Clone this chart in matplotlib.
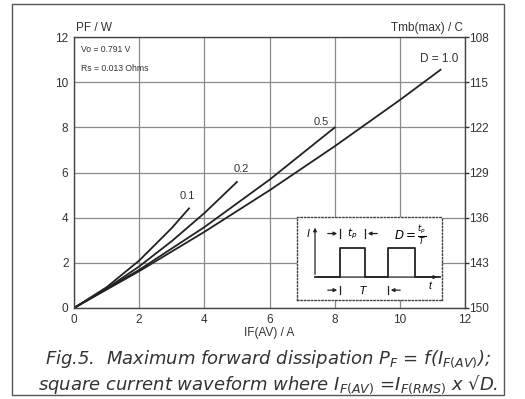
#!/usr/bin/env python3
"""Maximum forward dissipation vs average forward current (Fig.5)."""
import matplotlib.pyplot as plt
from matplotlib.patches import Rectangle

plt.rcParams["font.family"] = ["Liberation Sans", "DejaVu Sans"]
plt.rcParams["mathtext.fontset"] = "custom"
plt.rcParams["mathtext.rm"] = "DejaVu Sans"
plt.rcParams["mathtext.it"] = "DejaVu Sans:italic"

# curves: (I_F(AV) in A, P_F in W) per duty cycle
duty_labels = ["0.1", "0.2", "0.5", "D = 1.0"]
i_d01 = [0, 1, 2, 3, 3.53]
p_d01 = [0, 0.92, 2.10, 3.54, 4.41]
i_d02 = [0, 1, 2, 3, 4, 5]
p_d02 = [0, 0.86, 1.84, 2.96, 4.20, 5.58]
i_d05 = [0, 2, 4, 6, 8]
p_d05 = [0, 1.69, 3.58, 5.68, 7.99]
i_d10 = [0, 2, 4, 6, 8, 10, 11.25]
p_d10 = [0, 1.63, 3.37, 5.21, 7.16, 9.21, 10.55]

x_ticks = [0, 2, 4, 6, 8, 10, 12]
y_ticks = [0, 2, 4, 6, 8, 10, 12]
tmb_labels = ["150", "143", "136", "129", "122", "115", "108"]

# schematic waveform of the inset (arbitrary units)
wave_t = [0, 1.0, 1.0, 2.0, 2.0, 2.92, 2.92, 4.0, 4.0, 5.0]
wave_i = [0, 0, 1, 1, 0, 0, 1, 1, 0, 0]

ink = "#222222"
txt = "#333333"
grid_c = "#8a8a8a"

fig = plt.figure(figsize=(5.25, 3.99), dpi=100)
fig.patch.set_facecolor("white")

# scanned page frame
fig.add_artist(Rectangle((12 / 525, 4 / 399), 492 / 525, 391 / 399,
                         transform=fig.transFigure, fill=False,
                         edgecolor="#555555", linewidth=1.0))

ax = fig.add_axes([74 / 525, 1 - 308 / 399, 391 / 525, 271 / 399])
ax.set_xlim(0, 12)
ax.set_ylim(0, 12)
ax.set_xticks(x_ticks)
ax.set_yticks(y_ticks)
ax.grid(True, color=grid_c, linewidth=0.9)
ax.tick_params(length=0, labelsize=8.5, colors=txt, pad=4)
for s in ax.spines.values():
    s.set_color("#444444")
    s.set_linewidth(1.0)

for xs, ys in [(i_d01, p_d01), (i_d02, p_d02), (i_d05, p_d05), (i_d10, p_d10)]:
    ax.plot(xs, ys, color=ink, linewidth=1.3)

ax.text(i_d01[-1] - 0.05, p_d01[-1] + 0.4, duty_labels[0], fontsize=8, color=txt, ha="center")
ax.text(i_d02[-1] + 0.15, p_d02[-1] + 0.45, duty_labels[1], fontsize=8, color=txt, ha="center")
ax.text(i_d05[-1] - 0.4, p_d05[-1] + 0.1, duty_labels[2], fontsize=8, color=txt, ha="center")
ax.text(i_d10[-1] + 0.55, p_d10[-1] + 0.35, duty_labels[3], fontsize=8.5, color=txt, ha="right")

ax.text(0.2, 11.45, "Vo = 0.791 V", fontsize=6.2, color=txt, va="center")
ax.text(0.2, 10.6, "Rs = 0.013 Ohms", fontsize=6.2, color=txt, va="center")

ax.text(0.05, 12.15, "PF / W", fontsize=8.5, color=txt, va="bottom")
ax.set_xlabel("IF(AV) / A", fontsize=8.5, color=txt, labelpad=1)

ax2 = ax.twinx()
ax2.set_ylim(0, 12)
ax2.set_yticks(y_ticks)
ax2.set_yticklabels(tmb_labels)
ax2.tick_params(length=3, width=1, labelsize=8.5, colors=txt, pad=0)
for s in ax2.spines.values():
    s.set_visible(False)
ax2.text(11.95, 12.15, "Tmb(max) / C", fontsize=8.5, color=txt, ha="right", va="bottom")

# inset with the waveform definition
ins = fig.add_axes([297 / 525, 1 - 300 / 399, 145 / 525, 83 / 399])
ins.set_facecolor("white")
ins.set_xlim(-0.72, 5.08)
ins.set_ylim(-0.79, 2.07)
ins.set_xticks([])
ins.set_yticks([])
for s in ins.spines.values():
    s.set_linestyle((0, (1, 1.5)))
    s.set_color("#444444")
    s.set_linewidth(1.0)
ins.plot(wave_t, wave_i, color=ink, linewidth=1.3)
arrow = dict(arrowstyle="-|>", color=ink, lw=0.9, mutation_scale=5)
ins.annotate("", xy=(0, 1.8), xytext=(0, 0), arrowprops=arrow)
ins.annotate("", xy=(5.0, 0), xytext=(0, 0), arrowprops=arrow)
ins.text(-0.28, 1.5, "I", fontsize=7.5, style="italic", ha="center", va="center")
ins.text(4.6, -0.3, "t", fontsize=7.5, style="italic", ha="center", va="center")


def dim(ax_, x0, x1, y, label):
    ax_.annotate("", xy=(x0, y), xytext=(x0 - 0.6, y), arrowprops=arrow)
    ax_.annotate("", xy=(x1, y), xytext=(x1 + 0.6, y), arrowprops=arrow)
    ax_.plot([x0, x0], [y - 0.15, y + 0.15], color=ink, lw=0.9)
    ax_.plot([x1, x1], [y - 0.15, y + 0.15], color=ink, lw=0.9)
    ax_.text((x0 + x1) / 2, y, label, fontsize=7.5, ha="center", va="center")


dim(ins, 1.0, 2.0, 1.5, r"$t_p$")
dim(ins, 1.0, 2.92, -0.45, r"$T$")
ins.text(3.8, 1.45, r"$D = \frac{t_p}{T}$", fontsize=8.5, ha="center", va="center")

caption = ("Fig.5.  Maximum forward dissipation P$_F$ = f(I$_{F(AV)}$);\n"
           "square current waveform where I$_{F(AV)}$ =I$_{F(RMS)}$ x √D.")
fig.text(0.51, 0.023, caption, fontsize=13, family="DejaVu Sans", style="italic",
         ha="center", va="baseline", color=txt, linespacing=1.2, multialignment="center")

fig.savefig("out.png", dpi=100)
